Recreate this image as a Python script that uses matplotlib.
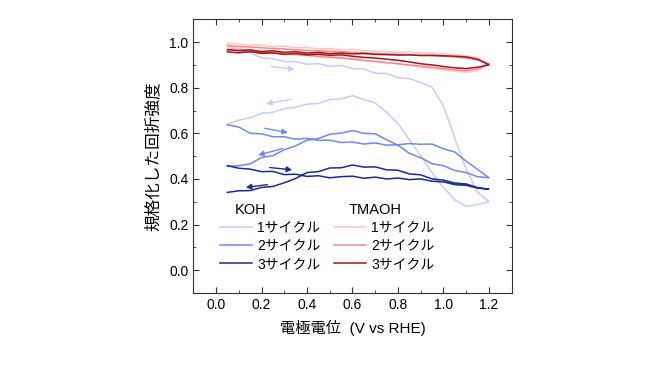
import matplotlib
matplotlib.use("Agg")
import matplotlib.pyplot as plt
from matplotlib.ticker import MultipleLocator

plt.rcParams['font.family'] = ['Liberation Sans', 'Noto Sans CJK JP']

# 電位 (V vs RHE), 往路は昇順, 復路も同じ昇順の並びで記録
potential = [0.05, 0.10, 0.15, 0.20, 0.25, 0.30, 0.35, 0.40, 0.45, 0.50, 0.55, 0.60,
             0.65, 0.70, 0.75, 0.80, 0.85, 0.90, 0.95, 1.00, 1.05, 1.10, 1.15, 1.20]

# KOH
koh1_fwd = [0.985, 0.968, 0.952, 0.932, 0.927, 0.914, 0.915, 0.903, 0.906, 0.894, 0.897, 0.884,
            0.882, 0.864, 0.862, 0.844, 0.840, 0.823, 0.802, 0.720, 0.578, 0.442, 0.343, 0.300]
koh1_rev = [0.640, 0.658, 0.668, 0.688, 0.692, 0.708, 0.714, 0.728, 0.731, 0.748, 0.751, 0.765,
            0.748, 0.733, 0.692, 0.643, 0.572, 0.503, 0.427, 0.362, 0.308, 0.280, 0.288, 0.300]
koh2_fwd = [0.637, 0.628, 0.600, 0.598, 0.585, 0.585, 0.574, 0.578, 0.569, 0.570, 0.560, 0.562,
            0.553, 0.558, 0.548, 0.550, 0.555, 0.552, 0.553, 0.532, 0.518, 0.478, 0.442, 0.405]
koh2_rev = [0.455, 0.458, 0.466, 0.494, 0.502, 0.528, 0.545, 0.570, 0.577, 0.596, 0.601, 0.612,
            0.600, 0.598, 0.572, 0.548, 0.512, 0.493, 0.467, 0.458, 0.437, 0.428, 0.410, 0.405]
koh3_fwd = [0.458, 0.447, 0.443, 0.432, 0.433, 0.419, 0.421, 0.411, 0.414, 0.405, 0.410, 0.412,
            0.403, 0.408, 0.400, 0.404, 0.397, 0.400, 0.390, 0.387, 0.375, 0.372, 0.360, 0.355]
koh3_rev = [0.341, 0.348, 0.349, 0.363, 0.367, 0.383, 0.402, 0.428, 0.432, 0.448, 0.449, 0.461,
            0.452, 0.453, 0.440, 0.438, 0.422, 0.418, 0.400, 0.395, 0.382, 0.378, 0.362, 0.355]

# TMAOH
tma1_fwd = [0.995, 0.990, 0.985, 0.987, 0.980, 0.982, 0.975, 0.977, 0.970, 0.972, 0.966, 0.968,
            0.962, 0.960, 0.958, 0.955, 0.956, 0.952, 0.950, 0.948, 0.945, 0.940, 0.932, 0.905]
tma1_rev = [0.975, 0.970, 0.965, 0.962, 0.958, 0.955, 0.950, 0.948, 0.942, 0.938, 0.932, 0.928,
            0.920, 0.915, 0.910, 0.905, 0.898, 0.890, 0.885, 0.878, 0.872, 0.868, 0.875, 0.905]
tma2_fwd = [0.985, 0.980, 0.978, 0.975, 0.972, 0.970, 0.966, 0.964, 0.962, 0.960, 0.958, 0.955,
            0.953, 0.950, 0.948, 0.947, 0.944, 0.943, 0.940, 0.938, 0.935, 0.930, 0.922, 0.905]
tma2_rev = [0.965, 0.962, 0.958, 0.955, 0.952, 0.948, 0.945, 0.942, 0.937, 0.933, 0.930, 0.925,
            0.920, 0.915, 0.910, 0.905, 0.900, 0.895, 0.890, 0.884, 0.878, 0.875, 0.882, 0.905]
tma3_fwd = [0.967, 0.963, 0.966, 0.958, 0.962, 0.955, 0.958, 0.952, 0.955, 0.950, 0.952, 0.948,
            0.950, 0.946, 0.945, 0.943, 0.944, 0.941, 0.942, 0.940, 0.938, 0.935, 0.925, 0.900]
tma3_rev = [0.957, 0.953, 0.958, 0.950, 0.953, 0.946, 0.950, 0.944, 0.947, 0.942, 0.944, 0.938,
            0.933, 0.930, 0.925, 0.920, 0.913, 0.905, 0.900, 0.893, 0.887, 0.884, 0.890, 0.900]

cycle_labels = ["1サイクル", "2サイクル", "3サイクル"]
koh_colors = ["#c3cdfb", "#6e88ee", "#1c2a93"]
tma_colors = ["#ffc4c4", "#f28a8a", "#a3161a"]

fig = plt.figure(figsize=(6.5, 3.66), dpi=100)
ax = fig.add_axes([0.2974, 0.1995, 0.4898, 0.7478])

loop_x = potential + potential[::-1]

koh_lines = []
for fwd, rev, c, lab in zip([koh1_fwd, koh2_fwd, koh3_fwd], [koh1_rev, koh2_rev, koh3_rev],
                            koh_colors, cycle_labels):
    ln, = ax.plot(loop_x, fwd + rev[::-1], color=c, lw=1.1, label=lab)
    koh_lines.append(ln)

tma_lines = []
for fwd, rev, c, lab in zip([tma1_fwd, tma2_fwd, tma3_fwd], [tma1_rev, tma2_rev, tma3_rev],
                            tma_colors, cycle_labels):
    ln, = ax.plot(loop_x, fwd + rev[::-1], color=c, lw=1.1, label=lab)
    tma_lines.append(ln)

# 掃引方向の矢印
arrows = [
    ((0.243, 0.894), (0.345, 0.880), koh_colors[0]),
    ((0.330, 0.749), (0.220, 0.730), koh_colors[0]),
    ((0.214, 0.622), (0.316, 0.603), koh_colors[1]),
    ((0.294, 0.533), (0.185, 0.505), koh_colors[1]),
    ((0.236, 0.450), (0.335, 0.440), koh_colors[2]),
    ((0.226, 0.375), (0.131, 0.363), koh_colors[2]),
]
for start, end, c in arrows:
    ax.annotate("", xy=end, xytext=start,
                arrowprops=dict(arrowstyle="-|>", color=c, lw=1.0,
                                mutation_scale=8, shrinkA=0, shrinkB=0))

ax.set_xlim(-0.1, 1.3)
ax.set_ylim(-0.1, 1.1)
ax.xaxis.set_major_locator(MultipleLocator(0.2))
ax.xaxis.set_minor_locator(MultipleLocator(0.1))
ax.yaxis.set_major_locator(MultipleLocator(0.2))
ax.yaxis.set_minor_locator(MultipleLocator(0.1))
ax.tick_params(which="both", direction="in", top=True, right=True, labelsize=10,
               color="#333333")
ax.tick_params(which="major", length=4)
ax.tick_params(which="minor", length=2.5)
for s in ax.spines.values():
    s.set_color("#333333")

ax.set_xlabel("電極電位  (V vs RHE)", fontsize=11, labelpad=6)
ax.set_ylabel("規格化した回折強度", fontsize=12, labelpad=6)

leg1 = ax.legend(handles=koh_lines, loc="upper left", bbox_to_anchor=(0.085, 0.265),
                 frameon=False, fontsize=10, handlelength=2.25, handletextpad=0.4,
                 labelspacing=0.3, borderpad=0, borderaxespad=0)
ax.add_artist(leg1)
ax.legend(handles=tma_lines, loc="upper left", bbox_to_anchor=(0.443, 0.265),
          frameon=False, fontsize=10, handlelength=2.25, handletextpad=0.4,
          labelspacing=0.3, borderpad=0, borderaxespad=0)
ax.text(0.131, 0.303, "KOH", transform=ax.transAxes, fontsize=10.5, va="center")
ax.text(0.489, 0.303, "TMAOH", transform=ax.transAxes, fontsize=10.5, va="center")

fig.savefig("out.png", dpi=100, facecolor="white")
